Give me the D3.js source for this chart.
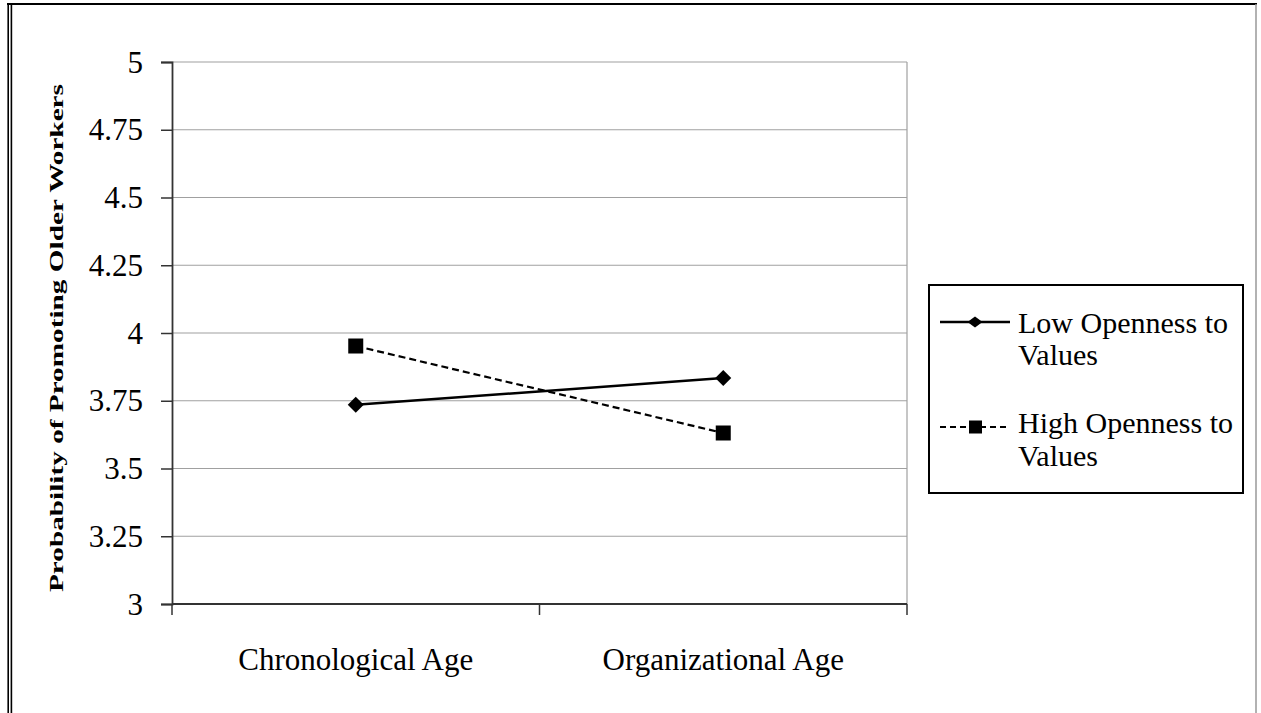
<!DOCTYPE html>
<html><head><meta charset="utf-8">
<script src="https://cdn.jsdelivr.net/npm/d3@7"></script>
<style>body{margin:0;background:#fff} svg{display:block}</style>
</head><body>
<svg id="c" width="1261" height="713"></svg>
<script>
const categories = ["Chronological Age", "Organizational Age"];
const lowOpenness = [3.735, 3.834];
const highOpenness = [3.952, 3.631];
const yTicks = [3, 3.25, 3.5, 3.75, 4, 4.25, 4.5, 4.75, 5];
const legendLines = [["Low Openness to", "Values"], ["High Openness to", "Values"]];
const yTitle = "Probability of Promoting Older Workers";

const svg = d3.select("#c");
const font = "'Liberation Serif','Times New Roman',serif";
const L = 172, R = 907, T = 62, B = 604;
const x = d3.scaleBand().domain(categories).range([L, R]);
const y = d3.scaleLinear().domain([3, 5]).range([B, T]);
const cx = c => x(c) + x.bandwidth() / 2;

// outer frame
svg.append("line").attr("x1", 7).attr("x2", 1257).attr("y1", 4).attr("y2", 4).attr("stroke", "#000").attr("stroke-width", 2);
svg.append("line").attr("x1", 8.2).attr("x2", 8.2).attr("y1", 3).attr("y2", 713).attr("stroke", "#000").attr("stroke-width", 1.6);
svg.append("line").attr("x1", 11.4).attr("x2", 11.4).attr("y1", 5).attr("y2", 713).attr("stroke", "#000").attr("stroke-width", 1.6);
svg.append("line").attr("x1", 1256).attr("x2", 1256).attr("y1", 4).attr("y2", 713).attr("stroke", "#999").attr("stroke-width", 1.5);

// gridlines
svg.append("g").selectAll("line").data(yTicks.filter(d => d !== 3)).join("line")
  .attr("x1", L).attr("x2", R).attr("y1", d => y(d)).attr("y2", d => y(d))
  .attr("stroke", "#a0a0a0").attr("stroke-width", 1.2);
svg.append("line").attr("x1", R).attr("x2", R).attr("y1", T).attr("y2", B).attr("stroke", "#a0a0a0").attr("stroke-width", 1.2);

// y axis
const ya = svg.append("g").attr("transform", `translate(${L},0)`)
  .call(d3.axisLeft(y).tickValues(yTicks).tickSize(11).tickPadding(18).tickFormat(d => String(d)));
ya.select(".domain").attr("stroke", "#333").attr("stroke-width", 1.8);
ya.selectAll(".tick line").attr("stroke", "#333").attr("stroke-width", 1.5);
ya.selectAll(".tick text").attr("font-family", font).attr("font-size", 31).attr("fill", "#000").attr("dy", "0.33em");

// x axis
const bounds = categories.map(c => x(c)).concat([x(categories[categories.length - 1]) + x.bandwidth()]);
svg.append("line").attr("x1", L).attr("x2", R).attr("y1", B).attr("y2", B).attr("stroke", "#333").attr("stroke-width", 1.8);
svg.append("g").selectAll("line").data(bounds).join("line")
  .attr("x1", d => d).attr("x2", d => d).attr("y1", B).attr("y2", B + 11)
  .attr("stroke", "#333").attr("stroke-width", 1.5);
svg.append("g").selectAll("text").data(categories).join("text")
  .attr("x", d => cx(d)).attr("y", 670).attr("text-anchor", "middle")
  .attr("font-family", font).attr("font-size", 31).attr("fill", "#000").text(d => d);

// y title
svg.append("text").attr("transform", "translate(63,338) rotate(-90)")
  .attr("text-anchor", "middle").attr("font-family", font).attr("font-weight", "bold")
  .attr("font-size", 19).attr("textLength", 508).attr("lengthAdjust", "spacingAndGlyphs")
  .text(yTitle);

// lines
const line = d3.line().x(d => cx(d.c)).y(d => y(d.v));
const lowData = categories.map((c, i) => ({c, v: lowOpenness[i]}));
const highData = categories.map((c, i) => ({c, v: highOpenness[i]}));
svg.append("path").datum(lowData).attr("d", line).attr("fill", "none").attr("stroke", "#000").attr("stroke-width", 2.5);
svg.append("path").datum(highData).attr("d", line).attr("fill", "none").attr("stroke", "#000").attr("stroke-width", 2.2).attr("stroke-dasharray", "7,4");

const diamond = (px, py, w, h) => `M${px},${py - h / 2}L${px + w / 2},${py}L${px},${py + h / 2}L${px - w / 2},${py}Z`;
svg.append("g").selectAll("path").data(lowData).join("path")
  .attr("d", d => diamond(cx(d.c), y(d.v), 16, 16)).attr("fill", "#000");
svg.append("g").selectAll("rect").data(highData).join("rect")
  .attr("x", d => cx(d.c) - 7.5).attr("y", d => y(d.v) - 7.5).attr("width", 15).attr("height", 15).attr("fill", "#000");

// legend
svg.append("rect").attr("x", 929).attr("y", 285).attr("width", 314).attr("height", 208)
  .attr("fill", "#fff").attr("stroke", "#000").attr("stroke-width", 2);
const ly = [322, 427];
svg.append("line").attr("x1", 940).attr("x2", 1010).attr("y1", ly[0]).attr("y2", ly[0]).attr("stroke", "#000").attr("stroke-width", 2.5);
svg.append("path").attr("d", diamond(975, ly[0], 15, 11)).attr("fill", "#000");
svg.append("line").attr("x1", 940).attr("x2", 1010).attr("y1", ly[1]).attr("y2", ly[1]).attr("stroke", "#000").attr("stroke-width", 2.2).attr("stroke-dasharray", "6,4");
svg.append("rect").attr("x", 969).attr("y", ly[1] - 6.5).attr("width", 13).attr("height", 13).attr("fill", "#000");
const baseY = [[333, 365], [433, 466]];
legendLines.forEach((ls, i) => {
  ls.forEach((t, j) => {
    svg.append("text").attr("x", 1018).attr("y", baseY[i][j]).attr("font-family", font)
      .attr("font-size", 30).attr("fill", "#000").text(t);
  });
});
</script>
</body></html>
